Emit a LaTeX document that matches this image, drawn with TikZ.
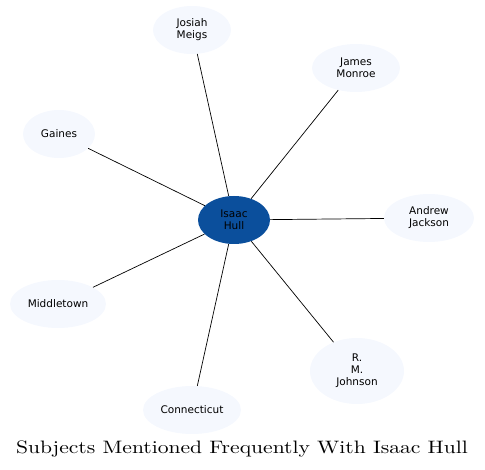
\documentclass[tikz,border=0pt]{standalone}
\usepackage{fontspec}
\newfontfamily\nodefont{DejaVu Sans}
\newfontfamily\titlefont{lmroman10-regular.otf}[FakeStretch=1.2]
\usetikzlibrary{shapes.geometric}
\definecolor{hubblue}{HTML}{0B4F9C}
\definecolor{paleblue}{HTML}{F5F8FE}

\begin{document}
\begin{tikzpicture}[x=1pt,y=-1pt,
    topic/.style={ellipse, fill=paleblue, inner sep=0pt, align=center,
        font=\nodefont\fontsize{10.5}{12}\selectfont},
    hub/.style={topic, fill=hubblue},
    link/.style={draw=black, line width=0.7pt}]
    \useasboundingbox (0,0) rectangle (485,470);

    % Central subject
    \node[hub, minimum width=72pt, minimum height=48pt] (hull) at (234,220) {Isaac\\Hull};

    % Related subjects
    \node[topic, minimum width=78pt, minimum height=48pt] (meigs) at (192,30) {Josiah\\Meigs};
    \node[topic, minimum width=88pt, minimum height=48pt] (monroe) at (356,68) {James\\Monroe};
    \node[topic, minimum width=72pt, minimum height=48pt] (gaines) at (59,134) {Gaines};
    \node[topic, minimum width=90pt, minimum height=48pt] (jackson) at (429,218) {Andrew\\Jackson};
    \node[topic, minimum width=96pt, minimum height=48pt] (middletown) at (58,304) {Middletown};
    \node[topic, minimum width=94pt, minimum height=66pt] (johnson) at (357,371) {R.\\M.\\Johnson};
    \node[topic, minimum width=98pt, minimum height=48pt] (connecticut) at (192,410) {Connecticut};

    % Links to the hub
    \foreach \n in {meigs,monroe,gaines,jackson,middletown,johnson,connecticut}
        \draw[link] (hull) -- (\n);

    % Title
    \node[font=\titlefont\fontsize{18}{22}\selectfont] (title) at (242,449) {Subjects Mentioned Frequently With Isaac Hull};
\end{tikzpicture}
\end{document}
